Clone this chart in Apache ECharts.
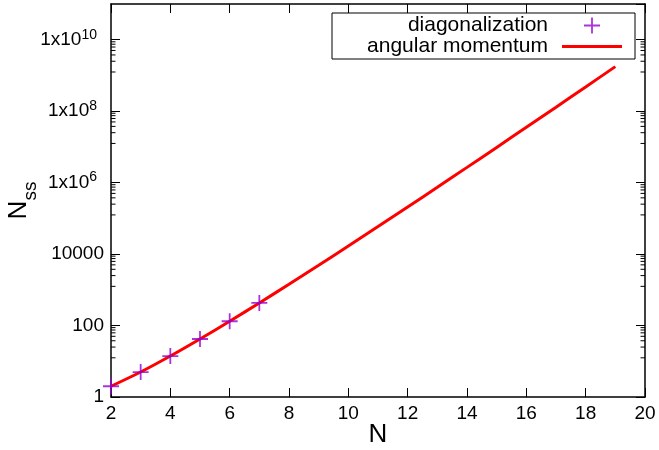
<!DOCTYPE html>
<html>
<head>
<meta charset="utf-8">
<script src="https://cdn.jsdelivr.net/npm/echarts@6/dist/echarts.min.js"></script>
<style>
  html, body { margin: 0; padding: 0; background: #fff; }
  #chart { width: 659px; height: 450px; }
</style>
</head>
<body>
<div id="chart"></div>
<script>
// data
const diagN = [2, 3, 4, 5, 6, 7];
const diagValues = [2, 5, 14, 42, 132, 429];

const angN = [2, 3, 4, 5, 6, 7, 8, 9, 10, 11, 12, 13, 14, 15, 16, 17, 18, 19];
const angValues = [2, 5, 14, 42, 132, 429, 1430, 4862, 16796, 58786, 208012,
  742900, 2674440, 9694845, 35357670, 129644790, 477638700, 1767263190];

// y minor ticks (gnuplot style, 7 per factor 100, in the upper decade)
const minorTicks = [
  12.5, 25, 37.5, 50, 62.5, 75, 87.5,
  1250, 2500, 3750, 5000, 6250, 7500, 8750,
  125000, 250000, 375000, 500000, 625000, 750000, 875000,
  12500000, 25000000, 37500000, 50000000, 62500000, 75000000, 87500000,
  1250000000, 2500000000, 3750000000, 5000000000, 6250000000, 7500000000, 8750000000
];

const FONT = "'Liberation Sans', Arial, sans-serif";
const PLUS = 'path://M0,7.1H16V8.9H0Z M7.1,0H8.9V16H7.1Z';
const LINE_ICON = 'path://M0,0H60V3H0Z';

const chart = echarts.init(document.getElementById('chart'));

// y label: plain up to 10000, then 1x10^n
function yLabel(v) {
  const e = Math.round(Math.log10(v));
  if (e <= 4) return String(Math.pow(10, e));
  return '{a|1x10}{b|' + e + '}';
}

const axisCommon = {
  axisLine: { lineStyle: { color: '#000', width: 1.5 } },
  axisTick: { inside: true, length: 9, lineStyle: { color: '#000', width: 1 } },
  splitLine: { show: false }
};

const option = {
  animation: false,
  grid: { left: 111, right: 14, top: 4, bottom: 53, containLabel: false, outerBoundsMode: 'none' },
  legend: {
    orient: 'vertical',
    left: 332,
    top: 13,
    align: 'right',
    selectedMode: false,
    itemWidth: 60,
    itemHeight: 16,
    itemGap: 0,
    padding: [2, 13, 2, 16],
    backgroundColor: '#fff',
    borderColor: '#000',
    borderWidth: 1,
    borderRadius: 0,
    textStyle: {
      fontFamily: FONT, fontSize: 21, color: '#000',
      width: 200, align: 'right', lineHeight: 20, padding: [0, 9, 0, 0]
    },
    data: [
      { name: 'diagonalization' },
      { name: 'angular momentum', icon: LINE_ICON, itemStyle: { color: '#ff0000' } }
    ]
  },
  xAxis: [
    Object.assign({
      type: 'value', position: 'bottom', min: 2, max: 20, interval: 2,
      name: 'N', nameLocation: 'middle', nameGap: 25, nameMoveOverlap: false,
      nameTextStyle: { fontFamily: FONT, fontSize: 26, color: '#000' },
      axisLabel: { fontFamily: FONT, fontSize: 19, color: '#000', margin: 7 }
    }, axisCommon),
    Object.assign({
      type: 'value', position: 'top', min: 2, max: 20, interval: 2,
      axisLabel: { show: false }
    }, axisCommon)
  ],
  yAxis: [
    Object.assign({
      type: 'log', logBase: 100, position: 'left', min: 1, max: 1e11,
      name: '{n|N}{s|ss}', nameLocation: 'middle', nameRotate: 90, nameGap: 71,
      nameMoveOverlap: false,
      nameTextStyle: {
        fontFamily: FONT, color: '#000',
        rich: {
          n: { fontFamily: FONT, fontSize: 26, color: '#000' },
          s: { fontFamily: FONT, fontSize: 19, color: '#000', padding: [24, 0, 0, 0] }
        }
      },
      axisLabel: {
        fontFamily: FONT, fontSize: 19, color: '#000', margin: 7,
        showMaxLabel: false,
        formatter: yLabel,
        rich: {
          a: { fontFamily: FONT, fontSize: 19, color: '#000' },
          b: { fontFamily: FONT, fontSize: 14, color: '#000', padding: [0, 7, 10, 0] }
        }
      }
    }, axisCommon),
    Object.assign({
      type: 'log', logBase: 100, position: 'right', min: 1, max: 1e11,
      axisLabel: { show: false }
    }, axisCommon)
  ],
  series: [
    {
      name: 'angular momentum',
      type: 'line',
      data: angN.map((n, i) => [n, angValues[i]]),
      smooth: 0.3,
      showSymbol: false,
      symbol: 'none',
      lineStyle: { color: '#ff0000', width: 3 },
      itemStyle: { color: '#ff0000' },
      z: 2
    },
    {
      name: 'diagonalization',
      type: 'scatter',
      data: diagN.map((n, i) => [n, diagValues[i]]),
      symbol: PLUS,
      symbolSize: 16,
      symbolKeepAspect: true,
      itemStyle: { color: '#9400d3' },
      z: 3
    },
    {
      // minor ticks on left and right borders
      type: 'custom',
      silent: true,
      data: minorTicks.map(v => [2, v]),
      renderItem: function (params, api) {
        const y = api.coord([2, api.value(1)])[1];
        const cs = params.coordSys;
        const style = { stroke: '#000', lineWidth: 1 };
        return {
          type: 'group',
          children: [
            { type: 'line', shape: { x1: cs.x, y1: y, x2: cs.x + 4.5, y2: y }, style: style },
            { type: 'line', shape: { x1: cs.x + cs.width, y1: y, x2: cs.x + cs.width - 4.5, y2: y }, style: style }
          ]
        };
      },
      z: 4
    }
  ]
};

chart.setOption(option);
</script>
</body>
</html>
